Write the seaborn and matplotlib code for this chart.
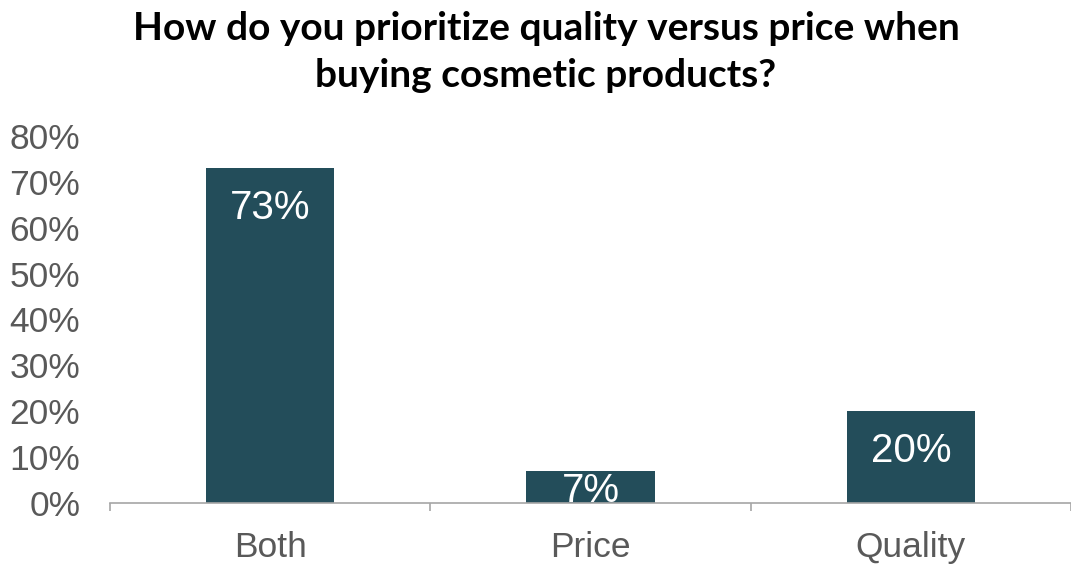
import matplotlib
matplotlib.use("Agg")
import matplotlib.pyplot as plt
import seaborn as sns
import pandas as pd

# Survey answers and shares (%)
categories = ["Both", "Price", "Quality"]
shares = [73, 7, 20]
title = "How do you prioritize quality versus price when\nbuying cosmetic products?"
y_ticks = [0, 10, 20, 30, 40, 50, 60, 70, 80]

BAR = "#234D5A"
GREY_TXT = "#595959"
GREY_AX = "#A6A6A6"

sns.set_theme(style="white")
plt.rcParams["font.family"] = ["Liberation Sans", "DejaVu Sans"]

W, H, DPI = 1071, 564, 100
fig = plt.figure(figsize=(W / DPI, H / DPI), dpi=DPI)
ax = fig.add_axes([110 / W, (H - 503) / H, (1071 - 110) / W, (503 - 136) / H])

df = pd.DataFrame({"answer": categories, "share": shares})
sns.barplot(data=df, x="answer", y="share", color=BAR, width=0.4,
            saturation=1, ax=ax, edgecolor="none")

ax.set_xlim(-0.5, 2.5)
ax.set_ylim(0, 80)
ax.set_xlabel("")
ax.set_ylabel("")

ax.set_yticks(y_ticks)
ax.set_yticklabels([f"{v}%" for v in y_ticks])
ax.tick_params(axis="y", length=0, pad=21.5, labelsize=25.5, labelcolor=GREY_TXT)
ax.tick_params(axis="x", which="major", length=0, pad=20.5, labelsize=25.5,
               labelcolor=GREY_TXT)
ax.set_xticks([-0.5, 0.5, 1.5, 2.5], minor=True)
ax.tick_params(axis="x", which="minor", length=6, width=1.2, color=GREY_AX,
               direction="out", bottom=True)

for side in ["left", "right", "top"]:
    ax.spines[side].set_visible(False)
ax.spines["bottom"].set_color(GREY_AX)
ax.spines["bottom"].set_linewidth(1.2)

# Value labels inside the bar tops; short bars keep the label on the base
px_per_unit = ((503 - 136) / 80)
for i, v in enumerate(shares):
    bar_px = v * px_per_unit
    off_px = min(40, bar_px - 12)
    ax.annotate(f"{v}%", xy=(i, v), xytext=(0, -off_px * 72 / DPI),
                textcoords="offset points", ha="center", va="center",
                color="white", fontsize=29)

fig.text(546 / W, 1 - 52 / H, title, ha="center", va="center",
         fontsize=28, fontweight="bold", family=["Lato", "DejaVu Sans"],
         color="black", linespacing=1.42)

fig.savefig("out.png", dpi=DPI)
